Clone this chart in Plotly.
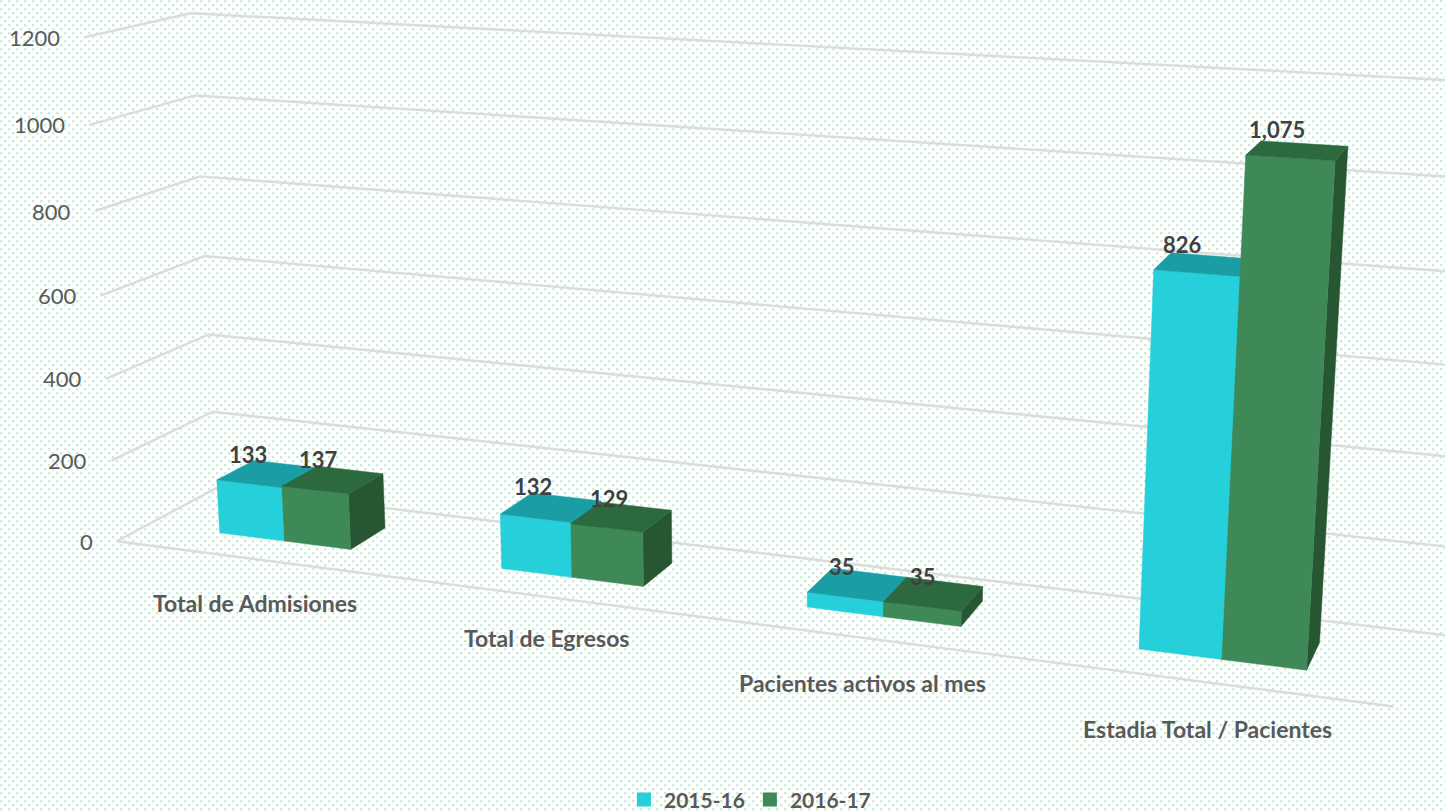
"""3-D style clustered column chart.

Plotly's WebGL scene has a fixed 45 degree field of view, which cannot reproduce
this long-lens view, so a pinhole camera (fitted below to the frame of the
picture) projects every (category, depth, value) point onto plain 2-D axes.
All marks are computed from the data arrays; none of their coordinates are typed.
"""
import base64
import numpy as np
import plotly.graph_objects as go

# ---- data -------------------------------------------------------------
categories = ["Total de Admisiones", "Total de Egresos", "Pacientes activos al mes", "Estadia Total / Pacientes"]
series_names = ["2015-16", "2016-17"]
values_2015_16 = [133, 132, 35, 826]
values_2016_17 = [137, 129, 35, 1075]
value_labels_2015_16 = ["133", "132", "35", "826"]
value_labels_2016_17 = ["137", "129", "35", "1,075"]
axis_ticks = [0, 200, 400, 600, 800, 1000, 1200]

# ---- style ------------------------------------------------------------
FRONT = ["#26D0DA", "#3F8857"]
TOP = ["#1A9DA5", "#2D693F"]
SIDE = ["#178089", "#275632"]
GRID = "#DCDCDA"
FONT = "Lato"
BAR_HALF = 0.237          # bar width in category units
DEPTH = (0.31, 0.69)      # bar extent in floor depth units
LABEL_NUDGE = [[(-17, -2), (-10, -1), (-3, -6), (-3, 0)],
               [(-10, -1), (-4, -4), (4, -7), (1, 3)]]

# ---- camera calibration: frame corners and bar corners
front_wall = [(85, 38), (88, 125), (97, 210), (100, 292), (105, 380), (112, 462), (118, 542)]
back_wall = [(190, 13), (194, 96), (200, 177), (205, 256), (210, 335), (213, 412), (216, 488)]
world, pix = [], []
for i, (a, b) in enumerate(zip(front_wall, back_wall)):
    z = 1200 - 200 * i
    world += [(0, 0, z), (0, 1, z)]
    pix += [a, b]
world += [(4, 0, 0), (4, 1, 0), (4, 1, 200)]
pix += [(1393, 706), (1423, 632), (1425, 545)]
_w, _a, _b = BAR_HALF, DEPTH[0], DEPTH[1]
for wp, pp in [((.5 - _w, _a, 0), (218, 534)), ((.5 + _w, _a, 0), (350, 551)), ((.5 + _w, _b, 0), (385, 522)),
               ((.5 + _w, _b, 137), (385, 474)), ((.5 - _w, _a, 133), (216, 481)),
               ((3.5 - _w, _a, 0), (1138, 650)), ((3.5 + _w, _a, 0), (1308, 670)), ((3.5 + _w, _a, 1075), (1336, 160)),
               ((3.5 + _w, _b, 1075), (1348, 147)), ((3.5 - _w, _a, 826), (1152, 270)), ((3.5 - _w, _b, 826), (1172, 253))]:
    world.append(wp)
    pix.append(pp)
world = np.array(world, float)
pix = np.array(pix, float)


def fit_camera(w, p):
    W = np.c_[w[:, 0] / 4, w[:, 1], w[:, 2] / 1200, np.ones(len(w))]
    P = p / 1000
    weights = np.ones(len(w))
    for _ in range(30):
        rows = []
        for X, (u, v), k in zip(W, P, weights):
            rows.append(np.r_[X, 0 * X, -u * X] * k)
            rows.append(np.r_[0 * X, X, -v * X] * k)
        M = np.linalg.svd(np.array(rows))[2][-1].reshape(3, 4)
        weights = 1 / np.abs(W @ M[2])
    return M


CAMERA = fit_camera(world, pix)


def project(x, y, z):
    h = CAMERA @ np.array([x / 4, y, z / 1200, 1.0])
    return h[0] / h[2] * 1000, h[1] / h[2] * 1000


fig = go.Figure()


def polygon(points, color):
    xy = [project(*p) for p in points + points[:1]]
    fig.add_trace(go.Scatter(x=[q[0] for q in xy], y=[q[1] for q in xy], mode="lines", fill="toself",
                             fillcolor=color, line=dict(color=color, width=0.5),
                             hoverinfo="skip", showlegend=False))


# ---- gridlines
gx, gy = [], []
for z in axis_ticks:
    for a, b in [((0, 0, z), (0, 1, z)), ((0, 1, z), (4.4, 1, z))]:
        for p in (a, b):
            q = project(*p)
            gx.append(q[0]); gy.append(q[1])
        gx.append(None); gy.append(None)
for p in ((0, 0, 0), (4, 0, 0)):
    q = project(*p)
    gx.append(q[0]); gy.append(q[1])
gx.append(None); gy.append(None)
fig.add_trace(go.Scatter(x=gx, y=gy, mode="lines", line=dict(color=GRID, width=2.4), hoverinfo="skip", showlegend=False))

# ---- bars
annotations = []
for c in range(len(categories)):
    for s, vals in enumerate([values_2015_16, values_2016_17]):
        x0 = c + 0.5 - BAR_HALF + s * BAR_HALF
        x1 = x0 + BAR_HALF
        y0, y1 = DEPTH
        v = vals[c]
        polygon([(x1, y0, 0), (x1, y1, 0), (x1, y1, v), (x1, y0, v)], SIDE[s])
        polygon([(x0, y0, 0), (x1, y0, 0), (x1, y0, v), (x0, y0, v)], FRONT[s])
        polygon([(x0, y0, v), (x1, y0, v), (x1, y1, v), (x0, y1, v)], TOP[s])

# ---- value labels
for s, (vals, labs) in enumerate([(values_2015_16, value_labels_2015_16), (values_2016_17, value_labels_2016_17)]):
    for c, (v, lab) in enumerate(zip(vals, labs)):
        x0 = c + 0.5 - BAR_HALF + s * BAR_HALF
        px, py = project(x0 + 0.04, DEPTH[1], v)
        dx, dy = LABEL_NUDGE[s][c]
        annotations.append(dict(x=px, y=py, text=f"<b>{lab}</b>", showarrow=False, xshift=dx, yshift=9 + dy,
                                font=dict(family=FONT, size=22, color="#404040")))

# ---- value axis labels
for z in axis_ticks:
    px, py = project(0, 0, z)
    annotations.append(dict(x=px, y=py, text=str(z), showarrow=False, xanchor="right", xshift=-22,
                            font=dict(family=FONT, size=22, color="#595959")))

# ---- category labels
label_centres = [(255, 603), (546, 638), (862, 683), (1207, 729)]
for name, (px, py) in zip(categories, label_centres):
    annotations.append(dict(x=px, y=py, text=f"<b>{name}</b>", showarrow=False,
                            font=dict(family=FONT, size=23, color="#595959")))

# ---- legend
for name, col in zip(series_names, FRONT):
    fig.add_trace(go.Scatter(x=[None], y=[None], mode="markers", name=name,
                             marker=dict(symbol="square", size=14, color=col)))

pattern = ('<svg xmlns="http://www.w3.org/2000/svg" width="1445" height="811"><defs>'
           '<pattern id="p" width="8" height="8" patternUnits="userSpaceOnUse">'
           '<rect width="8" height="8" fill="#ffffff"/>'
           '<rect x="0" y="0" width="2.4" height="2.4" fill="#CDEBDA"/>'
           '<rect x="4" y="4" width="2.4" height="2.4" fill="#CDEBDA"/>'
           '</pattern></defs><rect width="1445" height="811" fill="url(#p)"/></svg>')
bg_uri = "data:image/svg+xml;base64," + base64.b64encode(pattern.encode()).decode()

fig.update_layout(
    width=1445, height=811, margin=dict(l=0, r=0, t=0, b=0, autoexpand=False),
    paper_bgcolor="#ffffff", plot_bgcolor="rgba(0,0,0,0)",
    xaxis=dict(range=[0, 1445], visible=False, fixedrange=True),
    yaxis=dict(range=[811, 0], visible=False, fixedrange=True),
    annotations=annotations,
    images=[dict(source=bg_uri, xref="paper", yref="paper", x=0, y=1, sizex=1, sizey=1,
                 xanchor="left", yanchor="top", sizing="stretch", layer="below")],
    legend=dict(orientation="h", x=0.519, y=0.0136, xanchor="center", yanchor="middle",
                bgcolor="rgba(0,0,0,0)", font=dict(family=FONT, size=21, color="#595959", weight="bold"),
                itemwidth=30),
    showlegend=True,
)
fig.write_html("out.html", config={"displayModeBar": False},
               post_script="document.body.style.margin='0';document.body.style.overflow='hidden';")
